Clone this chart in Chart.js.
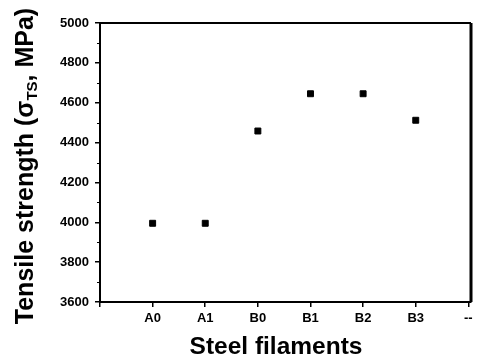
<!DOCTYPE html>
<html>
<head>
<meta charset="utf-8">
<script src="https://cdn.jsdelivr.net/npm/chart.js@4"></script>
<style>
  html, body { margin: 0; padding: 0; background: #fff; }
  #wrap { width: 477px; height: 356px; }
</style>
</head>
<body>
<div id="wrap"><canvas id="chart" width="477" height="356"></canvas></div>
<script>
const categories = ['A0', 'A1', 'B0', 'B1', 'B2', 'B3'];
const strength = [3995, 3995, 4458, 4645, 4645, 4512];
const xTickLabels = ['', 'A0', 'A1', 'B0', 'B1', 'B2', 'B3', '--'];
const yTicks = [3600, 3800, 4000, 4200, 4400, 4600, 4800, 5000];

const FONT = "'Liberation Sans', Arial, sans-serif";

// frame on top/right, minor ticks, axis titles (y title has a subscript)
const framePlugin = {
    id: 'frame',
    afterDraw(chart) {
        const { ctx, chartArea: a, scales } = chart;
        ctx.save();
        ctx.strokeStyle = '#000';
        ctx.lineWidth = 2;
        ctx.beginPath();
        ctx.moveTo(a.left, a.top);
        ctx.lineTo(a.right, a.top);
        ctx.stroke();
        ctx.lineWidth = 3;
        ctx.beginPath();
        ctx.moveTo(a.right, a.top);
        ctx.lineTo(a.right, a.bottom);
        ctx.stroke();

        // minor y ticks
        ctx.lineWidth = 1;
        for (let v = 3700; v < 5000; v += 200) {
            const y = Math.round(scales.y.getPixelForValue(v)) + 0.5;
            ctx.beginPath();
            ctx.moveTo(a.left - 3, y);
            ctx.lineTo(a.left, y);
            ctx.stroke();
        }

        ctx.fillStyle = '#000';
        ctx.textBaseline = 'alphabetic';

        // x axis title
        ctx.font = "bold 24.5px " + FONT;
        ctx.textAlign = 'center';
        ctx.fillText('Steel filaments', 276, 354);

        // y axis title
        ctx.textAlign = 'left';
        ctx.translate(33, 166);
        ctx.rotate(-Math.PI / 2);
        const big = "bold 25px " + FONT;
        const small = "bold 15px " + FONT;
        const parts = [
            { t: 'Tensile strength (\u03c3', f: big, dy: 0 },
            { t: 'TS', f: small, dy: 4 },
            { t: ', MPa)', f: big, dy: 0 }
        ];
        let total = 0;
        parts.forEach(p => { ctx.font = p.f; p.w = ctx.measureText(p.t).width; total += p.w; });
        let x = -total / 2;
        parts.forEach(p => {
            ctx.font = p.f;
            ctx.fillText(p.t, x, p.dy);
            x += p.w;
        });
        ctx.restore();
    }
};

new Chart(document.getElementById('chart').getContext('2d'), {
    type: 'scatter',
    data: {
        datasets: [{
            label: 'Tensile strength',
            data: categories.map((c, i) => ({ x: i + 1, y: strength[i] })),
            backgroundColor: '#000',
            borderColor: '#000',
            pointStyle: 'rect',
            pointRadius: 4.2,
            pointHoverRadius: 4.2
        }]
    },
    options: {
        responsive: false,
        animation: false,
        events: [],
        layout: { padding: { top: 23, right: 6, left: 0, bottom: 0 } },
        plugins: {
            legend: { display: false },
            tooltip: { enabled: false }
        },
        scales: {
            x: {
                type: 'linear',
                min: 0,
                max: 7.05,
                afterBuildTicks: scale => {
                    scale.ticks = xTickLabels.map((l, i) => ({ value: i }));
                },
                afterFit: scale => { scale.height = 54; },
                border: { color: '#000', width: 2 },
                grid: {
                    drawOnChartArea: false,
                    color: '#000',
                    tickLength: 5,
                    lineWidth: 1.5
                },
                ticks: {
                    autoSkip: false,
                    maxRotation: 0,
                    padding: 4,
                    color: '#000',
                    font: { family: FONT, size: 13, weight: 'bold' },
                    callback: v => xTickLabels[v]
                }
            },
            y: {
                min: 3600,
                max: 5000,
                afterBuildTicks: scale => {
                    scale.ticks = yTicks.map(v => ({ value: v }));
                },
                afterFit: scale => { scale.width = 100; },
                border: { color: '#000', width: 2 },
                grid: {
                    drawOnChartArea: false,
                    color: '#000',
                    tickLength: 5,
                    lineWidth: 1.5
                },
                ticks: {
                    padding: 6,
                    color: '#000',
                    font: { family: FONT, size: 13, weight: 'bold' },
                    callback: v => String(v)
                }
            }
        }
    },
    plugins: [framePlugin]
});
</script>
</body>
</html>
